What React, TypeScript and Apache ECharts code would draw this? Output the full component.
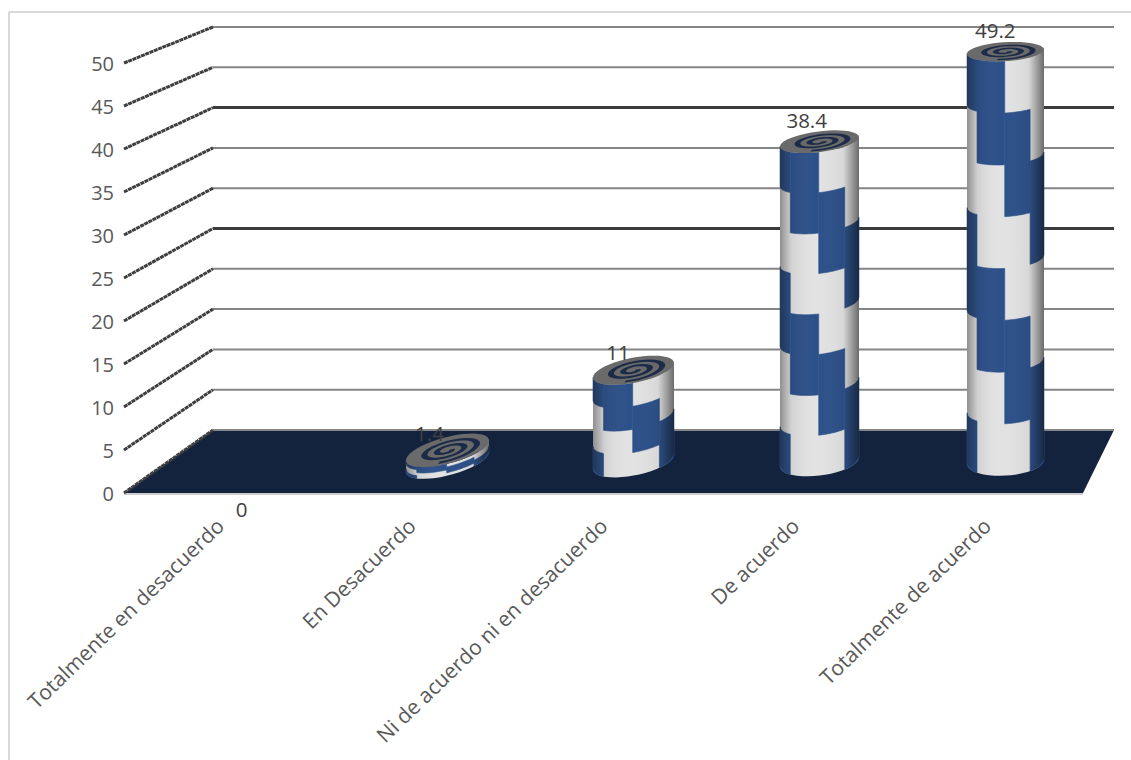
import React, { useEffect, useRef } from "react";
import * as echarts from "echarts";

const categories = [
  "Totalmente en desacuerdo",
  "En Desacuerdo",
  "Ni de acuerdo ni en desacuerdo",
  "De acuerdo",
  "Totalmente de acuerdo",
];
const percentages = [0, 1.4, 11, 38.4, 49.2];
const textureRows = [0, 4, 4, 8, 8];
const scaleTicks = [0, 5, 10, 15, 20, 25, 30, 35, 40, 45, 50];
const heavyTicks = [25, 40];

const AXIS_MAX = 50;
const FONT = '"Open Sans", sans-serif';

// The 3D box is three parallel planes: the front edge, the middle (where columns stand) and the back wall.
const FRONT = { left: 124, width: 959, top: 63, height: 430 };
const MIDDLE = { left: 168.5, width: 930, top: 45, height: 417 };
const BACK = { left: 213, width: 901, top: 27, height: 403 };

const BLUE = "#2c5089";
const LIGHT = "#e2e2e2";

// Four texture columns across the cylinder; each row shifts the blue run one column to the right.
const COLUMN_EDGES = [-1, -0.74, -0.02, 0.64, 1];
const ROW_PATTERN = [
  [true, true, false, false],
  [false, true, true, false],
  [false, false, true, true],
  [true, false, false, true],
];

const backY = (value: number) => BACK.top + BACK.height * (1 - value / AXIS_MAX);

function renderWall(params: any, api: any) {
  const value = api.value(1);
  const front = api.coord([0, value]);
  const y = backY(value);
  const heavy = heavyTicks.includes(value);
  return {
    type: "group",
    children: [
      {
        type: "line",
        shape: { x1: BACK.left, y1: y, x2: BACK.left + BACK.width, y2: y },
        style: { stroke: heavy ? "#3c3c3c" : "#858585", lineWidth: heavy ? 3 : 2 },
      },
      {
        type: "line",
        shape: { x1: params.coordSys.x, y1: front[1], x2: BACK.left, y2: y },
        style: { stroke: "#3f3f3f", lineWidth: 3, lineDash: [4, 0.6] },
      },
    ],
  };
}

function renderFloor(params: any, api: any) {
  const y = api.coord([0, 0])[1];
  const { x, width } = params.coordSys;
  const yBack = backY(0);
  return {
    type: "group",
    children: [
      {
        type: "polygon",
        shape: {
          points: [
            [x, y],
            [x + width, y],
            [BACK.left + BACK.width, yBack],
            [BACK.left, yBack],
          ],
        },
        style: { fill: "#14233d" },
      },
      {
        type: "line",
        shape: { x1: x, y1: y + 1, x2: x + width, y2: y + 1 },
        style: { stroke: "#9a9a9a", lineWidth: 1 },
      },
    ],
  };
}

// Spiral drawn as a ribbon in disc coordinates, so its width follows the ellipse's foreshortening.
function spiralRibbon(cx: number, cy: number, rx: number, ry: number, slope: number) {
  const end = Math.PI * 4.6;
  const halfWidth = 0.075;
  const at = (a: number, r: number) => {
    const u = r * Math.cos(a);
    return [cx + rx * u, cy + ry * r * Math.sin(a) + slope * rx * u];
  };
  const outer: number[][] = [];
  const inner: number[][] = [];
  for (let a = 0; a <= end; a += 0.2) {
    const r = 0.1 + (0.7 * a) / end;
    outer.push(at(a, r + halfWidth));
    inner.push(at(a, Math.max(0, r - halfWidth)));
  }
  return [...outer, ...inner.reverse()];
}

function renderCylinder(_params: any, api: any) {
  const index = api.value(0);
  const value = api.value(1);
  const [cx, topY] = api.coord([index, value]);
  const baseY = api.coord([index, 0])[1];
  const labelStyle = { fill: "#404040", font: `20.5px ${FONT}`, textAlign: "center", textVerticalAlign: "middle" };

  if (value === 0) {
    return {
      type: "text",
      style: { ...labelStyle, text: String(value), x: cx - 20, y: baseY + 47 },
    };
  }

  const rx = 41.5 - ((cx - 448) / 557) * 3;
  const slope = -0.24 + (cx - 448) * 0.00033;
  const radiusAt = (y: number) => 9.5 + ((y - 52) / 400) * 4;
  const surface = (u: number, y: number) => [
    cx + rx * u,
    y + radiusAt(y) * Math.sqrt(Math.max(0, 1 - u * u)) + slope * rx * u,
  ];
  const edge = (from: number, to: number, y: number) => {
    const pts: number[][] = [];
    const steps = 14;
    for (let s = 0; s <= steps; s++) pts.push(surface(from + ((to - from) * s) / steps, y));
    return pts;
  };

  // Light body first, then the blue runs merged per column so no seams appear inside a run.
  const children: any[] = [
    {
      type: "polygon",
      shape: { points: [...edge(-1, 1, topY), ...edge(1, -1, baseY)] },
      style: { fill: LIGHT },
    },
  ];
  const rows = textureRows[index];
  const rowHeight = (baseY - topY) / rows;
  for (let c = 0; c < 4; c++) {
    const a = COLUMN_EDGES[c];
    const b = COLUMN_EDGES[c + 1];
    let r = 0;
    while (r < rows) {
      if (!ROW_PATTERN[r % 4][c]) {
        r++;
        continue;
      }
      const start = r;
      while (r < rows && ROW_PATTERN[r % 4][c]) r++;
      const y1 = topY + start * rowHeight;
      const y2 = topY + r * rowHeight;
      children.push({
        type: "polygon",
        shape: { points: [...edge(a, b, y1), ...edge(b, a, y2)] },
        style: { fill: BLUE, stroke: BLUE, lineWidth: 0.6 },
      });
    }
  }

  // Cylinder shading, darker towards both silhouette edges.
  children.push({
    type: "polygon",
    shape: { points: [...edge(-1, 1, topY), ...edge(1, -1, baseY)] },
    style: {
      fill: new echarts.graphic.LinearGradient(0, 0, 1, 0, [
        { offset: 0, color: "rgba(20,20,20,0.4)" },
        { offset: 0.14, color: "rgba(20,20,20,0.08)" },
        { offset: 0.45, color: "rgba(255,255,255,0)" },
        { offset: 0.8, color: "rgba(20,20,20,0.05)" },
        { offset: 1, color: "rgba(10,10,10,0.55)" },
      ]),
    },
  });

  // Top face: grey disc with a dark spiral.
  const ryTop = radiusAt(topY);
  const disc: number[][] = [];
  for (let a = 0; a < Math.PI * 2; a += 0.15) {
    const u = Math.cos(a);
    disc.push([cx + rx * u, topY + ryTop * Math.sin(a) + slope * rx * u]);
  }
  children.push({
    type: "polygon",
    shape: { points: disc },
    style: { fill: "#6a6a6a" },
  });
  children.push({
    type: "polygon",
    shape: { points: spiralRibbon(cx, topY, rx, ryTop, slope) },
    style: { fill: "#1c2b48" },
  });

  children.push({
    type: "text",
    style: {
      ...labelStyle,
      text: String(value),
      x: cx - 18 + (cx - 448) * 0.014,
      y: topY - 22 + Math.max(0, topY - 142) * 0.015,
    },
  });
  return { type: "group", children };
}

export default function App() {
  const ref = useRef<HTMLDivElement>(null);

  useEffect(() => {
    const chart = echarts.init(ref.current!, undefined, { renderer: "svg" });
    chart.setOption({
      animation: false,
      backgroundColor: "#ffffff",
      graphic: [
        { type: "line", shape: { x1: 9, y1: 12, x2: 1131, y2: 12 }, style: { stroke: "#d9d9d9", lineWidth: 2 } },
        { type: "line", shape: { x1: 9, y1: 12, x2: 9, y2: 760 }, style: { stroke: "#d9d9d9", lineWidth: 2 } },
      ],
      grid: [
        { ...FRONT, containLabel: false },
        { ...MIDDLE, containLabel: false },
      ],
      xAxis: [
        {
          type: "category",
          gridIndex: 0,
          data: categories,
          axisLine: { show: false },
          axisTick: { show: false },
          splitLine: { show: false },
          axisLabel: {
            interval: 0,
            rotate: 44,
            margin: 29,
            color: "#595959",
            fontFamily: FONT,
            fontSize: 21,
          },
        },
        { type: "category", gridIndex: 1, data: categories, show: false },
      ],
      yAxis: [
        {
          type: "value",
          gridIndex: 0,
          min: 0,
          max: AXIS_MAX,
          interval: 5,
          axisLine: { show: false },
          axisTick: { show: false },
          splitLine: { show: false },
          axisLabel: { margin: 10, color: "#595959", fontFamily: FONT, fontSize: 20 },
        },
        { type: "value", gridIndex: 1, min: 0, max: AXIS_MAX, interval: 5, show: false },
      ],
      series: [
        {
          type: "custom",
          name: "Suelo",
          xAxisIndex: 0,
          yAxisIndex: 0,
          z: 1,
          silent: true,
          data: [[0, 0]],
          renderItem: renderFloor,
        },
        {
          type: "custom",
          name: "Escala",
          xAxisIndex: 0,
          yAxisIndex: 0,
          z: 2,
          silent: true,
          data: scaleTicks.map((tick) => [0, tick]),
          renderItem: renderWall,
        },
        {
          type: "custom",
          name: "Porcentaje",
          xAxisIndex: 1,
          yAxisIndex: 1,
          z: 3,
          silent: true,
          data: percentages.map((value, index) => [index, value]),
          renderItem: renderCylinder,
        },
      ],
    });
    return () => chart.dispose();
  }, []);

  return <div ref={ref} style={{ position: "fixed", left: 0, top: 0, width: 1131, height: 760 }} />;
}
